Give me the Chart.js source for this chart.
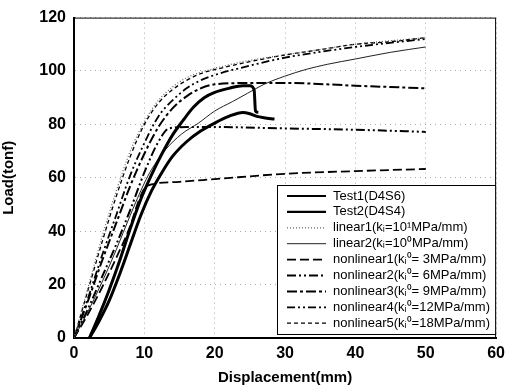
<!DOCTYPE html>
<html lang="en">
<head>
<meta charset="UTF-8">
<title>Load-Displacement</title>
<script src="https://cdn.jsdelivr.net/npm/chart.js"></script>
<style>
  html, body { margin: 0; padding: 0; background: #fff; }
  #wrap { width: 511px; height: 389px; }
</style>
</head>
<body>
<div id="wrap"><canvas id="chart" width="511" height="389"></canvas></div>
<script>
// values (displacement mm, load tonf)
const test1X = [2.2, 3.5, 5, 6.5, 8, 9.5, 11, 12.5, 14, 15.5, 17, 18.5, 20, 22, 24, 25, 25.6, 25.8, 26.2];
const test1Y = [0, 8, 18, 29, 41, 52, 61, 69, 76, 81.5, 86.5, 90, 92, 93.5, 94.5, 94.5, 93, 85, 84.5];
const test2X = [2.2, 3.5, 5, 6.5, 8, 9.5, 11, 12.5, 14, 16, 18, 20, 22, 24, 25, 26, 27, 28.5];
const test2Y = [0, 6, 14, 24, 35, 46, 55, 62, 68, 73.5, 77.5, 80.5, 83, 84.5, 84, 83, 82.5, 82];
const lin1X = [0, 2, 4, 6, 8, 10, 12, 14, 16, 18, 20, 25, 30, 40, 50];
const lin1Y = [0, 19, 38, 55, 70, 81, 89, 94, 97.5, 99.5, 101, 104, 106, 110, 112.5];
const lin2X = [0, 2, 4, 6, 8, 10, 11, 13, 15.3, 17.7, 20, 22.5, 24.7, 27, 29.9, 33, 36, 40, 45, 50];
const lin2Y = [0, 10, 21, 33, 46, 58, 63, 70.5, 76.4, 80.5, 85, 88.5, 91.7, 95, 98, 100.6, 102.5, 104.5, 107, 109];
const nl1X = [0, 2, 4, 6, 8, 9, 10, 11, 15, 20, 30, 40, 50];
const nl1Y = [0, 9, 19, 30, 42, 50, 56, 57.5, 58.5, 59.5, 61.5, 62.5, 63.3];
const nl2X = [0, 2, 4, 6, 8, 10, 12, 13.5, 16, 20, 30, 40, 50];
const nl2Y = [0, 11, 23, 35, 48, 62, 73.5, 78.5, 79, 79, 78.5, 78, 77.2];
const nl3X = [0, 2, 4, 6, 8, 10, 12, 14, 16, 18, 20, 25, 30, 40, 50];
const nl3Y = [0, 14, 29, 43, 57, 69, 79, 86, 90.5, 93.5, 95, 95.5, 95.5, 94.5, 93.5];
const nl4X = [0, 2, 4, 6, 8, 10, 12, 14, 16, 18, 20, 25, 30, 40, 50];
const nl4Y = [0, 15, 31, 46, 61, 73, 83, 89, 93.5, 96.5, 98.5, 102, 105, 109, 112];
const nl5X = [0, 2, 4, 6, 8, 10, 12, 14, 16, 18, 20, 25, 30, 35, 40, 45, 50];
const nl5Y = [0, 18, 36, 53, 68, 80, 88, 93, 96.5, 99, 100.5, 103.5, 106, 108, 110, 111, 112.5];

const labels = [
  'Test1(D4S6)', 'Test2(D4S4)',
  'linear1(k\u1d62=10\u00b9MPa/mm)', 'linear2(k\u1d62=10\u2070MPa/mm)',
  'nonlinear1(k\u1d62\u2070= 3MPa/mm)', 'nonlinear2(k\u1d62\u2070= 6MPa/mm)',
  'nonlinear3(k\u1d62\u2070= 9MPa/mm)', 'nonlinear4(k\u1d62\u2070=12MPa/mm)',
  'nonlinear5(k\u1d62\u2070=18MPa/mm)'
];
const xTicks = [0, 10, 20, 30, 40, 50, 60];
const yTicks = [0, 20, 40, 60, 80, 100, 120];

function pts(xs, ys) { return xs.map((x, i) => ({ x: x, y: ys[i] })); }

const series = [
  [test1X, test1Y, '#000', 3, []],
  [test2X, test2Y, '#000', 3, []],
  [lin1X, lin1Y, '#666', 1.2, [1, 2]],
  [lin2X, lin2Y, '#222', 1, []],
  [nl1X, nl1Y, '#000', 1.8, [9, 4]],
  [nl2X, nl2Y, '#000', 2, [9, 3, 2, 3, 2, 3]],
  [nl3X, nl3Y, '#000', 2, [10, 3, 3, 3]],
  [nl4X, nl4Y, '#000', 1.8, [8, 3, 2, 3, 2, 3]],
  [nl5X, nl5Y, '#000', 1.3, [4, 3]]
];

const datasets = series.map((s, i) => ({
  label: labels[i],
  data: pts(s[0], s[1]),
  borderColor: s[2],
  borderWidth: s[3],
  borderDash: s[4],
  pointRadius: 0,
  fill: false,
  cubicInterpolationMode: 'monotone'
}));

// legend box inside the plot + frame round the plot
const boxLegend = {
  id: 'boxLegend',
  afterDatasetsDraw(chart) {
    const ctx = chart.ctx;
    const a = chart.chartArea;
    ctx.save();
    ctx.strokeStyle = '#000';
    ctx.lineWidth = 1;
    ctx.setLineDash([]);
    ctx.beginPath();
    ctx.moveTo(a.left, a.top + 0.5);
    ctx.lineTo(a.right - 0.5, a.top + 0.5);
    ctx.lineTo(a.right - 0.5, a.bottom);
    ctx.stroke();

    const bx = 277, by = 185, bw = a.right - 277, bh = 150;
    ctx.fillStyle = '#fff';
    ctx.fillRect(bx, by, bw, bh);
    ctx.strokeRect(bx + 0.5, by + 0.5, bw - 1, bh - 1);
    ctx.font = '13px "Liberation Sans", Arial, sans-serif';
    ctx.textBaseline = 'middle';
    chart.data.datasets.forEach((d, i) => {
      const y = by + 11 + i * 15.9;
      ctx.strokeStyle = d.borderColor;
      ctx.lineWidth = Math.min(d.borderWidth, 2.2);
      ctx.setLineDash(d.borderDash);
      ctx.beginPath();
      ctx.moveTo(287, y);
      ctx.lineTo(326, y);
      ctx.stroke();
      ctx.setLineDash([]);
      ctx.fillStyle = '#000';
      ctx.fillText(d.label, 333, y);
    });
    ctx.restore();
  }
};

new Chart(document.getElementById('chart'), {
  type: 'line',
  data: { datasets: datasets },
  plugins: [boxLegend],
  options: {
    responsive: false,
    animation: false,
    layout: { padding: { top: 16, right: 11, left: 0, bottom: 0 } },
    plugins: { legend: { display: false }, tooltip: { enabled: false } },
    scales: {
      x: {
        type: 'linear',
        min: 0, max: 60,
        afterBuildTicks: s => { s.ticks = xTicks.map(v => ({ value: v })); },
        afterFit: s => { s.height = 51; },
        grid: { color: '#aaa', tickLength: 0, drawTicks: false },
        border: { color: '#000', width: 2, dash: [1, 4] },
        ticks: { color: '#000', padding: 6, font: { family: '"Liberation Sans", Arial', size: 16, weight: 'bold' } },
        title: { display: true, text: 'Displacement(mm)', color: '#000', padding: { top: 0, bottom: 2 },
          font: { family: '"Liberation Sans", Arial', size: 15, weight: 'bold' } }
      },
      y: {
        min: 0, max: 120,
        afterBuildTicks: s => { s.ticks = yTicks.map(v => ({ value: v })); },
        afterFit: s => { s.width = 74; },
        grid: { color: '#aaa', tickLength: 0, drawTicks: false },
        border: { color: '#000', width: 2, dash: [1, 4] },
        ticks: { color: '#000', padding: 8, font: { family: '"Liberation Sans", Arial', size: 16, weight: 'bold' } },
        title: { display: true, text: 'Load(tonf)', color: '#000', padding: { top: 0, bottom: 2 },
          font: { family: '"Liberation Sans", Arial', size: 15, weight: 'bold' } }
      }
    }
  }
});
</script>
</body>
</html>
